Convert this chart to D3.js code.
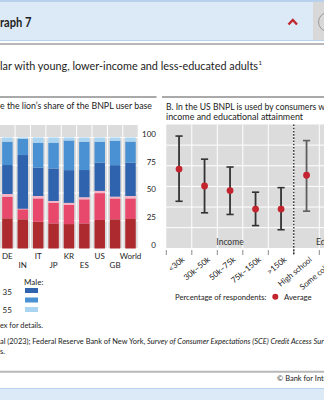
<!DOCTYPE html>
<html><head><meta charset="utf-8">
<script src="https://cdn.jsdelivr.net/npm/d3@7"></script>
<style>
html,body{margin:0;padding:0;background:#fff;overflow:hidden}
text{font-family:Lato,"Open Sans",sans-serif}
</style></head>
<body>
<svg id="c" width="324" height="400"></svg>
<script>
// ---------- DATA ----------
const countries = ["DE","IN","IT","JP","KR","ES","US","GB","World"];
const femaleUnder35 = [27.2, 26.3, 24.1, 22.6, 22.0, 22.6, 25.7, 26.3, 26.6];
const female35to55  = [19.5,  9.0, 21.0, 18.7, 17.2, 21.7, 24.2, 18.8, 18.5];
const femaleOver55  = [ 2.4,  0.5,  2.2,  1.5,  1.9,  1.9,  2.0,  1.6,  2.2];
const maleUnder35   = [26.1, 48.4, 25.5, 29.3, 29.5, 24.5, 25.4, 28.4, 30.0];
const male35to55    = [21.0, 14.6, 22.5, 23.2, 26.7, 25.5, 18.9, 22.0, 19.0];
const maleOver55    = [ 3.8,  1.2,  4.7,  4.7,  2.7,  3.8,  3.8,  2.9,  3.7];
const yTicksA = [0, 25, 50, 75, 100];

const incomeEduCats = ["<30k","30k–50k","50k–75k","75k–150k",">150k","High school","Some college"];
const avgShare  = [19.2, 15.1, 14.0,  9.5,  9.5, 17.7, null];
const lowShare  = [11.4,  8.6,  8.2,  5.5,  4.5,  9.0, null];
const highShare = [27.2, 21.6, 19.7, 13.6, 14.7, 26.1, null];
const yTicksB = [0, 5, 10, 15, 20, 25, 30];

// ---------- HELPERS ----------
const svg = d3.select("#c");
function txt(x, y, s, size, opts = {}) {
  const t = svg.append("text").attr("x", x).attr("y", y)
    .attr("font-size", size).attr("fill", opts.fill || "#222")
    .attr("text-anchor", opts.anchor || "start").text(s);
  if (opts.weight) t.attr("font-weight", opts.weight);
  if (opts.style) t.attr("font-style", opts.style);
  if (opts.w) t.attr("textLength", opts.w).attr("lengthAdjust", "spacingAndGlyphs");
  return t;
}

// ---------- PAGE FRAME ----------
svg.append("rect").attr("x", 0).attr("y", 0).attr("width", 324).attr("height", 41).attr("fill", "#dce9f6");
svg.append("line").attr("x1", 0).attr("x2", 324).attr("y1", 1).attr("y2", 1).attr("stroke", "#a8c8ea").attr("stroke-width", 1.5);
svg.append("line").attr("x1", 0).attr("x2", 324).attr("y1", 40.5).attr("y2", 40.5).attr("stroke", "#b9d4ef").attr("stroke-width", 1);
svg.append("rect").attr("x", 313).attr("y", 1.8).attr("width", 11).attr("height", 38.2).attr("fill", "#d8d8d8");
svg.append("circle").attr("cx", 328).attr("cy", 22).attr("r", 9.5).attr("fill", "none").attr("stroke", "#9a9a9a").attr("stroke-width", 1);
txt(0, 27, "raph 7", 12.5, {weight: "bold", fill: "#1e1e1e", w: 31.5});
svg.append("path").attr("d", "M288.5,24.5 L292.8,20 L297,24.5").attr("fill", "none")
  .attr("stroke", "#c0282d").attr("stroke-width", 2.4);
svg.append("line").attr("x1", 0).attr("x2", 324).attr("y1", 44).attr("y2", 44).attr("stroke", "#b8b8b8").attr("stroke-width", 2);

const title = txt(0, 70, "lar with young, lower-income and less-educated adults", 10.5, {w: 258, fill: "#1e1e1e"});
txt(258.5, 64.5, "1", 6, {fill: "#1e1e1e"});

svg.append("line").attr("x1", 0).attr("x2", 156.5).attr("y1", 97).attr("y2", 97).attr("stroke", "#555").attr("stroke-width", 1);
svg.append("line").attr("x1", 162).attr("x2", 324).attr("y1", 97).attr("y2", 97).attr("stroke", "#555").attr("stroke-width", 1);

// ---------- PANEL A ----------
txt(0, 109, "e the lion\u2019s share of the BNPL user base", 9, {w: 152});

const plotA = {x0: -0.3, x1: 138.2, top: 125, bottom: 249};
const xA = d3.scaleBand().domain(countries).range([plotA.x0, plotA.x1]).padding(0);
const yA = d3.scaleLinear().domain([0, 100]).range([248.5, 137.5]);

svg.append("rect").attr("x", 0).attr("y", plotA.top).attr("width", plotA.x1).attr("height", plotA.bottom - plotA.top).attr("fill", "#dcdcdc");
// horizontal grid
svg.append("g").selectAll("line").data(yTicksA).join("line")
  .attr("x1", 0).attr("x2", plotA.x1).attr("y1", d => yA(d)).attr("y2", d => yA(d))
  .attr("stroke", "#fff").attr("stroke-width", 1);
// vertical grid
svg.append("g").selectAll("line").data(countries.slice(1).concat(["_end"])).join("line")
  .attr("x1", (d, i) => xA(countries[i]) + xA.bandwidth()).attr("x2", (d, i) => xA(countries[i]) + xA.bandwidth())
  .attr("y1", plotA.top).attr("y2", plotA.bottom).attr("stroke", "#fff").attr("stroke-width", 1);

const seriesKeys = ["fU35", "f3555", "fO55", "mU35", "m3555", "mO55"];
const seriesCols = {fU35: "#ad2a2f", f3555: "#e8486b", fO55: "#f6b4c6", mU35: "#2f63ae", m3555: "#4a91d3", mO55: "#a9d4f2"};
const rowsA = countries.map((c, i) => ({
  c, fU35: femaleUnder35[i], f3555: female35to55[i], fO55: femaleOver55[i],
  mU35: maleUnder35[i], m3555: male35to55[i], mO55: maleOver55[i]}));
const stackA = d3.stack().keys(seriesKeys)(rowsA);
const barW = xA.bandwidth() * 0.68;
svg.append("g").selectAll("g").data(stackA).join("g").attr("fill", s => seriesCols[s.key])
  .selectAll("rect").data(s => s).join("rect")
  .attr("x", d => xA(d.data.c) + (xA.bandwidth() - barW) / 2)
  .attr("width", barW)
  .attr("y", d => yA(d[1])).attr("height", d => yA(d[0]) - yA(d[1]));

// right axis labels
const axA = svg.append("g").attr("transform", "translate(156,0)")
  .call(d3.axisRight(yA).tickValues(yTicksA).tickSize(0).tickPadding(0));
axA.select(".domain").remove();
axA.selectAll("text").attr("x", 0).attr("text-anchor", "end").attr("dy", "-0.15em")
  .attr("font-size", 8).attr("fill", "#222").attr("font-family", "Lato, sans-serif");

// x labels (staggered)
const axXA = svg.append("g").attr("transform", "translate(0,250)")
  .call(d3.axisBottom(xA).tickSize(0).tickPadding(0));
axXA.select(".domain").remove();
axXA.selectAll("text").attr("y", (d, i) => i % 2 === 0 ? 9 : 18).attr("dy", 0)
  .attr("font-size", 8).attr("fill", "#222").attr("font-family", "Lato, sans-serif");

// legend (visible part)
txt(24, 284.5, "Male:", 8);
[["mU35", 288], ["m3555", 297.5], ["mO55", 307]].forEach(([k, y]) =>
  svg.append("rect").attr("x", 25).attr("y", y).attr("width", 13).attr("height", 5).attr("fill", seriesCols[k]));
txt(2.5, 294.5, "35", 8);
txt(2.5, 312.5, "55", 8);

// ---------- PANEL B ----------
txt(166, 110, "B. In the US BNPL is used by consumers w", 9, {w: 159});
txt(166, 120, "income and educational attainment", 9, {w: 137});

const xB = d3.scaleBand().domain(incomeEduCats).range([166.3, 166.3 + 25.5 * incomeEduCats.length]).padding(0);
const yB = d3.scaleLinear().domain([0, 30]).range([248.3, 124.5]);
svg.append("rect").attr("x", 166.3).attr("y", yB(30)).attr("width", 324 - 166.3).attr("height", 248 - yB(30)).attr("fill", "#dcdcdc");
svg.append("g").selectAll("line").data(yTicksB.slice(1, -1)).join("line")
  .attr("x1", 166.3).attr("x2", 324).attr("y1", d => yB(d)).attr("y2", d => yB(d))
  .attr("stroke", "#fff").attr("stroke-width", 1);
const boundaries = incomeEduCats.map(c => xB(c)).slice(1);
svg.append("g").selectAll("line").data(boundaries).join("line")
  .attr("x1", d => d).attr("x2", d => d).attr("y1", yB(30)).attr("y2", 248)
  .attr("stroke", "#fff").attr("stroke-width", 1);

// bottom ticks at band boundaries
svg.append("g").selectAll("line").data(incomeEduCats.map(c => xB(c))).join("line")
  .attr("x1", d => d).attr("x2", d => d).attr("y1", 250).attr("y2", 255)
  .attr("stroke", "#8a8a8a").attr("stroke-width", 1);

// dotted divider between income and education
const divX = xB("High school");
svg.append("line").attr("x1", divX).attr("x2", divX).attr("y1", yB(30)).attr("y2", 255)
  .attr("stroke", "#222").attr("stroke-width", 1.3).attr("stroke-dasharray", "1.6,1.6");

// group labels
txt(230, 244.5, "Income", 8.5, {anchor: "middle", fill: "#333"});
txt(316, 244.5, "Education", 8.5, {fill: "#333"});

// error bars + dots
const ptsB = incomeEduCats.map((c, i) => ({c, avg: avgShare[i], lo: lowShare[i], hi: highShare[i], edu: i >= 5}))
  .filter(d => d.avg !== null);
const cx = d => xB(d.c) + xB.bandwidth() / 2;
const eb = svg.append("g");
eb.selectAll("line.v").data(ptsB).join("line").attr("class", "v")
  .attr("x1", cx).attr("x2", cx).attr("y1", d => yB(d.hi)).attr("y2", d => yB(d.lo))
  .attr("stroke", d => d.edu ? "#5e5e5e" : "#333").attr("stroke-width", 1.8);
["hi", "lo"].forEach(k => eb.selectAll("line." + k).data(ptsB).join("line").attr("class", k)
  .attr("x1", d => cx(d) - 3.6).attr("x2", d => cx(d) + 3.6).attr("y1", d => yB(d[k])).attr("y2", d => yB(d[k]))
  .attr("stroke", d => d.edu ? "#5e5e5e" : "#333").attr("stroke-width", 1.6));
svg.append("g").selectAll("circle").data(ptsB).join("circle")
  .attr("cx", cx).attr("cy", d => yB(d.avg)).attr("r", 3.4).attr("fill", "#c4242e");

// rotated x labels
const axXB = svg.append("g").attr("transform", "translate(0,0)")
  .call(d3.axisBottom(xB).tickSize(0).tickPadding(0));
axXB.select(".domain").remove();
axXB.selectAll(".tick").attr("transform", d => `translate(${xB(d) + xB.bandwidth() / 2 + 6},260.5)`);
axXB.selectAll("text").attr("y", 0).attr("dy", 0).attr("text-anchor", "end")
  .attr("transform", "rotate(-40)").attr("font-size", 8).attr("fill", "#222").attr("font-family", "Lato, sans-serif");

// legend B
txt(175, 299.5, "Percentage of respondents:", 8, {w: 91.5});
svg.append("circle").attr("cx", 275.3).attr("cy", 296.8).attr("r", 3).attr("fill", "#c4242e");
txt(284, 299.5, "Average", 8, {w: 27.7});

// ---------- NOTES ----------
txt(0, 328, "ex for details.", 7.5, {w: 43});
const src = svg.append("text").attr("x", 0).attr("y", 344.3).attr("font-size", 7.5).attr("fill", "#222");
src.append("tspan").text("al (2023); Federal Reserve Bank of New York, ").attr("textLength", 147).attr("lengthAdjust", "spacingAndGlyphs");
src.append("tspan").attr("font-style", "italic").text("Survey of Consumer Expectations (SCE) Credit Access Survey");
txt(0, 354, "s.", 7.5);
txt(277, 381, "\u00a9 Bank for International Settlements", 7.5);

svg.append("line").attr("x1", 0).attr("x2", 324).attr("y1", 371.7).attr("y2", 371.7).attr("stroke", "#b8b8b8").attr("stroke-width", 2);
svg.append("rect").attr("x", 0).attr("y", 388.5).attr("width", 324).attr("height", 12).attr("fill", "#dce9f6");
svg.append("line").attr("x1", 0).attr("x2", 324).attr("y1", 388.5).attr("y2", 388.5).attr("stroke", "#b9d4ef").attr("stroke-width", 1);
</script>
</body></html>
